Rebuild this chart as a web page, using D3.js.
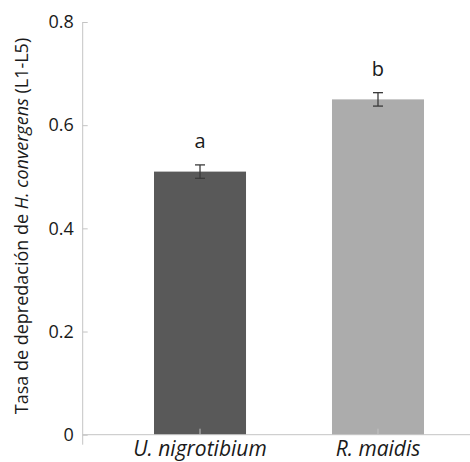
<!DOCTYPE html>
<html lang="es">
  <head>
    <meta charset="UTF-8" />
    <title>Tasa de depredación</title>
    <script src="https://cdn.jsdelivr.net/npm/d3@7"></script>
    <style>
      body { margin: 0; background: #fff; }
      text { font-family: "Open Sans", "DejaVu Sans", sans-serif; fill: #1a1a1a; }
    </style>
  </head>
  <body>
    <svg width="470" height="462"></svg>
  </body>
  <script>
    // data
    var categories = ["U. nigrotibium", "R. maidis"];
    var means = [0.51, 0.65];
    var errors = [0.013, 0.013];
    var letters = ["a", "b"];
    var barColors = ["#595959", "#acacac"];
    var yTicks = [0, 0.2, 0.4, 0.6, 0.8];

    var svg = d3.select("svg");
    var axisColor = "#c4c4c4";

    var yScale = d3.scaleLinear().domain([0, 0.8]).range([434.7, 22]);
    var xScale = d3
      .scaleBand()
      .domain(categories)
      .range([111, 467])
      .paddingInner(0.483)
      .paddingOuter(0.2416);

    var data = categories.map(function (c, i) {
      return { cat: c, v: means[i], e: errors[i], l: letters[i], col: barColors[i] };
    });

    // bars
    svg
      .selectAll("rect.bar")
      .data(data)
      .enter()
      .append("rect")
      .attr("class", "bar")
      .attr("x", (d) => xScale(d.cat))
      .attr("width", xScale.bandwidth())
      .attr("y", (d) => yScale(d.v))
      .attr("height", (d) => yScale(0) - yScale(d.v))
      .attr("fill", (d) => d.col);

    // y axis
    var yAxis = d3
      .axisRight(yScale)
      .tickValues(yTicks)
      .tickSize(5)
      .tickFormat((d) => (d === 0 ? "0" : d3.format(".1f")(d)));
    var gy = svg.append("g").attr("transform", "translate(82.7,0)").call(yAxis);
    gy.select(".domain").remove();
    gy.selectAll("line").attr("stroke", axisColor);
    gy.selectAll("text")
      .attr("x", -9)
      .attr("text-anchor", "end")
      .style("font-size", "18px");
    svg
      .append("line")
      .attr("x1", 82.7)
      .attr("x2", 82.7)
      .attr("y1", yScale(0.8))
      .attr("y2", yScale(0) + 10)
      .attr("stroke", axisColor);

    // x axis
    svg
      .append("line")
      .attr("x1", 82.7)
      .attr("x2", 470)
      .attr("y1", yScale(0))
      .attr("y2", yScale(0))
      .attr("stroke", axisColor);
    var xAxis = d3.axisTop(xScale).tickSize(6).tickSizeOuter(0);
    var gx = svg
      .append("g")
      .attr("transform", "translate(0," + yScale(0) + ")")
      .call(xAxis);
    gx.select(".domain").remove();
    gx.selectAll("line").attr("stroke", axisColor);
    gx.selectAll("text")
      .attr("y", 21)
      .attr("dy", 0)
      .style("font-size", "21px")
      .style("font-style", "italic");

    // error bars
    var eb = svg
      .selectAll("g.err")
      .data(data)
      .enter()
      .append("g")
      .attr("class", "err")
      .attr("stroke", "#3a3a3a")
      .attr("stroke-width", 1.3);
    eb.append("line")
      .attr("x1", (d) => xScale(d.cat) + xScale.bandwidth() / 2)
      .attr("x2", (d) => xScale(d.cat) + xScale.bandwidth() / 2)
      .attr("y1", (d) => yScale(d.v + d.e))
      .attr("y2", (d) => yScale(d.v - d.e));
    eb.selectAll("line.cap")
      .data((d) => [
        [d, d.v + d.e],
        [d, d.v - d.e],
      ])
      .enter()
      .append("line")
      .attr("class", "cap")
      .attr("x1", (p) => xScale(p[0].cat) + xScale.bandwidth() / 2 - 5)
      .attr("x2", (p) => xScale(p[0].cat) + xScale.bandwidth() / 2 + 5)
      .attr("y1", (p) => yScale(p[1]))
      .attr("y2", (p) => yScale(p[1]));

    // significance letters
    svg
      .selectAll("text.letter")
      .data(data)
      .enter()
      .append("text")
      .attr("class", "letter")
      .attr("x", (d) => xScale(d.cat) + xScale.bandwidth() / 2)
      .attr("y", (d) => yScale(d.v + d.e) - 17)
      .attr("text-anchor", "middle")
      .style("font-size", "20px")
      .text((d) => d.l);

    // y label
    var yl = svg
      .append("text")
      .attr("transform", "translate(28,226) rotate(-90)")
      .attr("text-anchor", "middle")
      .style("font-size", "18px");
    yl.append("tspan").text("Tasa de depredación de ");
    yl.append("tspan").style("font-style", "italic").text("H. convergens");
    yl.append("tspan").text(" (L1-L5)");
  </script>
</html>
